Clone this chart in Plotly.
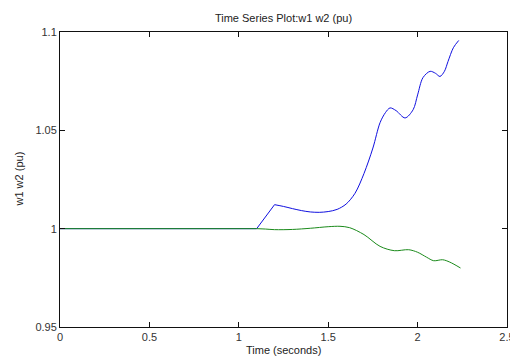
import plotly.graph_objects as go

# Series 1 (w1, blue)
t_w1 = [0.0, 1.10, 1.20, 1.25, 1.30, 1.35, 1.40, 1.45, 1.50, 1.55, 1.60, 1.65, 1.70,
        1.75, 1.79, 1.82, 1.846, 1.88, 1.93, 1.975, 2.00, 2.03, 2.07, 2.10, 2.125, 2.15,
        2.17, 2.20, 2.23]
w1 = [1.0, 1.0, 1.0122, 1.0113, 1.0102, 1.0092, 1.0085, 1.0083, 1.0087, 1.0098,
      1.0125, 1.0180, 1.0280, 1.0410, 1.0539, 1.0590, 1.0614, 1.0600, 1.0563, 1.0605,
      1.0680, 1.0768, 1.0800, 1.0790, 1.0774, 1.0800, 1.0850, 1.0920, 1.0957]

# Series 2 (w2, green)
t_w2 = [0.0, 1.10, 1.15, 1.20, 1.30, 1.40, 1.50, 1.566, 1.62, 1.70, 1.79, 1.87, 1.95,
        2.00, 2.05, 2.09, 2.14, 2.18, 2.24]
w2 = [1.0, 1.0, 0.9998, 0.9995, 0.9996, 1.0002, 1.0010, 1.0012, 1.0005, 0.9970, 0.9910,
      0.9888, 0.9893, 0.9880, 0.9855, 0.9837, 0.9842, 0.9830, 0.9800]

x_ticks = [0, 0.5, 1, 1.5, 2, 2.5]
x_labels = ["0", "0.5", "1", "1.5", "2", "2.5"]
y_ticks = [0.95, 1.0, 1.05, 1.1]
y_labels = ["0.95", "1", "1.05", "1.1"]

fig = go.Figure()
fig.add_trace(go.Scatter(x=t_w1[:3], y=w1[:3], mode="lines", line=dict(color="#1010e0", width=1)))
fig.add_trace(go.Scatter(x=t_w1[2:], y=w1[2:], mode="lines",
                         line=dict(color="#1010e0", width=1, shape="spline", smoothing=0.9)))
fig.add_trace(go.Scatter(x=t_w2[:2], y=w2[:2], mode="lines", line=dict(color="#1a8a1a", width=1)))
fig.add_trace(go.Scatter(x=t_w2[1:], y=w2[1:], mode="lines",
                         line=dict(color="#1a8a1a", width=1, shape="spline", smoothing=0.9)))

W, H = 510, 350
L, R, T, B = 52, 11, 24, 31
axis_font = dict(family="Liberation Sans, Arial, sans-serif", size=11, color="#333")
fig.update_layout(
    width=W, height=H,
    margin=dict(l=L, r=R, t=T, b=B, autoexpand=False),
    paper_bgcolor="white", plot_bgcolor="white",
    showlegend=False,
    font=axis_font,
    title=dict(text="Time Series Plot:w1 w2 (pu)", x=(L + (W - R)) / 2 / W, xanchor="center",
               y=1 - 10 / H, yanchor="middle", automargin=False, font=dict(size=11, color="#222")),
    xaxis=dict(range=[0, 2.5], tickvals=x_ticks, ticktext=x_labels, showgrid=False, zeroline=False,
               automargin=False,
               showline=True, linecolor="#111", linewidth=1, mirror="ticks", ticks="inside", ticklen=5,
               tickcolor="#111"),
    yaxis=dict(range=[0.95, 1.1], tickvals=y_ticks, ticktext=y_labels, showgrid=False, zeroline=False,
               automargin=False,
               showline=True, linecolor="#111", linewidth=1, mirror="ticks", ticks="inside", ticklen=5,
               tickcolor="#111"),
    annotations=[
        dict(text="Time (seconds)", xref="paper", yref="paper", x=0.5, y=0, yshift=-23,
             xanchor="center", yanchor="middle", showarrow=False, font=dict(size=11, color="#222")),
        dict(text="w1 w2 (pu)", xref="paper", yref="paper", x=0, y=0.5, xshift=-(L - 10),
             xanchor="center", yanchor="middle", textangle=-90, showarrow=False,
             font=dict(size=11, color="#222")),
    ],
)
fig.write_html("out.html")
